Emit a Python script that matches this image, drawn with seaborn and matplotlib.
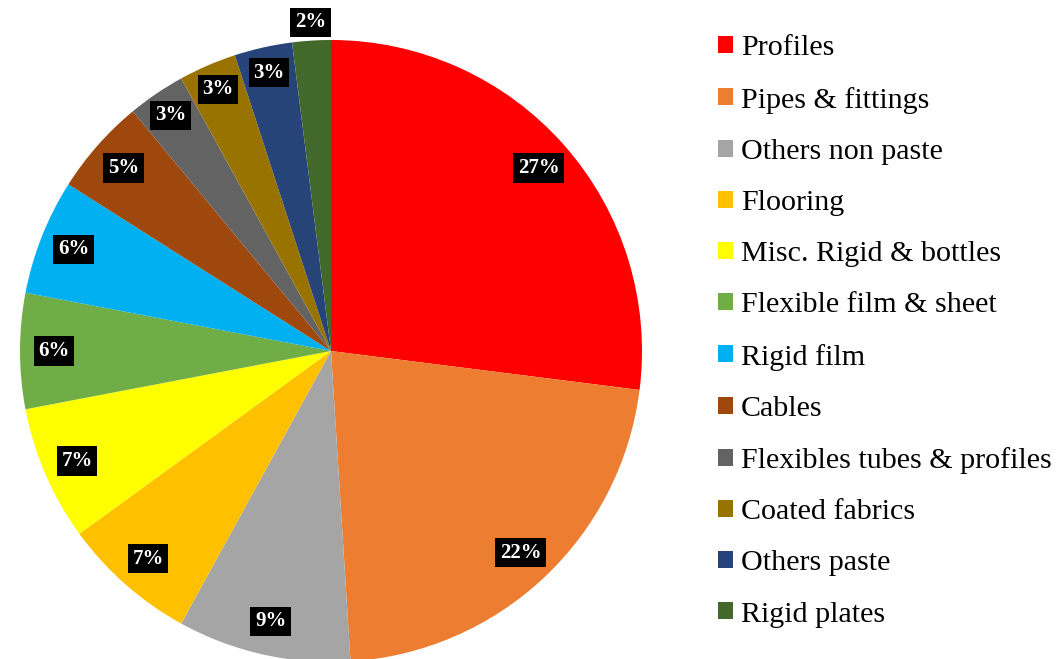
import matplotlib
matplotlib.use("Agg")
import matplotlib.pyplot as plt
from matplotlib.patches import Patch
import seaborn as sns

# data
categories = ["Profiles", "Pipes & fittings", "Others non paste", "Flooring",
              "Misc. Rigid & bottles", "Flexible film & sheet", "Rigid film",
              "Cables", "Flexibles tubes & profiles", "Coated fabrics",
              "Others paste", "Rigid plates"]
shares = [27, 22, 9, 7, 7, 6, 6, 5, 3, 3, 3, 2]
colors = ["#FF0000", "#ED7D31", "#A5A5A5", "#FFC000", "#FFFF00", "#70AD47",
          "#00B0F0", "#9E480E", "#636363", "#997300", "#264478", "#43682B"]

sns.set_theme(style="white")
plt.rcParams["font.family"] = ["Liberation Serif", "DejaVu Serif"]
plt.rcParams["text.color"] = "black"

fig = plt.figure(figsize=(10.59, 6.59), dpi=100)
W, H = 1059, 659
cx, cy, r = 331, 351, 311
ax = fig.add_axes([(cx - r) / W, (H - cy - r) / H, 2 * r / W, 2 * r / H])

wedges, texts, pcts = ax.pie(
    shares, colors=colors, startangle=90, counterclock=False,
    autopct="%d%%", pctdistance=0.89, radius=1,
    wedgeprops=dict(linewidth=0),
    textprops=dict(color="white", fontweight="bold", fontsize=15),
)
for t in pcts:
    t.set_bbox(dict(boxstyle="square,pad=0.22", facecolor="black", edgecolor="none"))
# smallest slice label sits just outside the pie
x, y = pcts[-1].get_position()
pcts[-1].set_position((x * 1.19, y * 1.19))
# small top slices' labels sit a bit further out
for t in pcts[-4:-1]:
    x, y = t.get_position()
    t.set_position((x * 1.03, y * 1.03))

ax.set_xlim(-1, 1)
ax.set_ylim(-1, 1)
ax.set_aspect("equal")
ax.axis("off")

handles = [Patch(facecolor=c, edgecolor="none") for c in colors]
fig.legend(handles, categories, loc="center left",
           bbox_to_anchor=(718 / W, 0.497), frameon=False,
           fontsize=21.6, handlelength=0.5, handleheight=0.5,
           handletextpad=0.27, labelspacing=0.84,
           borderpad=0, borderaxespad=0)

fig.savefig("out.png", dpi=100)
